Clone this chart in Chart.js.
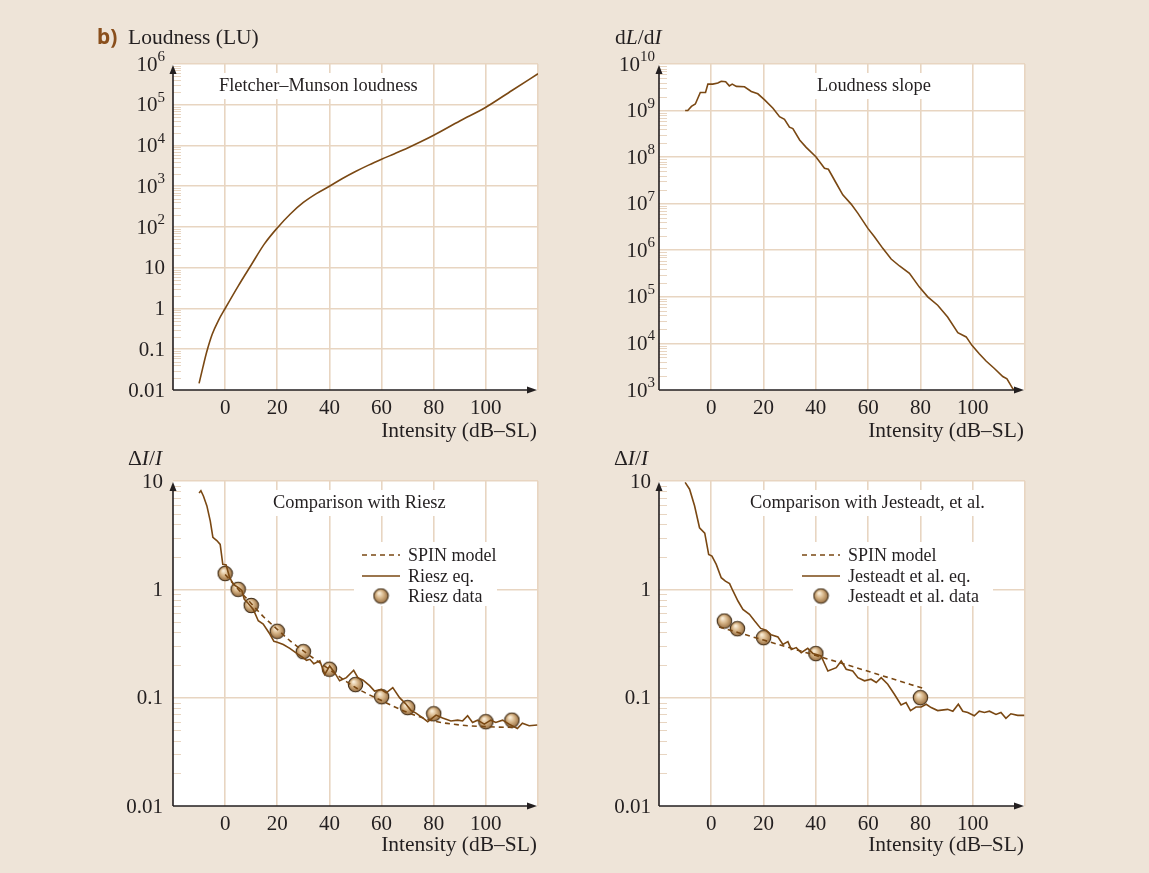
<!DOCTYPE html>
<html>
<head>
<meta charset="utf-8">
<script src="https://cdn.jsdelivr.net/npm/chart.js@4.4.1/dist/chart.umd.min.js"></script>
<style>
  body { margin: 0; background: #eee4d8; width: 1149px; height: 873px; overflow: hidden; position: relative; }
  canvas { position: absolute; left: 0; top: 0; }
</style>
</head>
<body>
<canvas id="tl" width="1149" height="873"></canvas>
<canvas id="tr" width="1149" height="873"></canvas>
<canvas id="bl" width="1149" height="873"></canvas>
<canvas id="br" width="1149" height="873"></canvas>
<script>
// axis ticks
const xTicks = [0, 20, 40, 60, 80, 100];
const loudTicks = [1e6, 1e5, 1e4, 1e3, 1e2, 10, 1, 0.1, 0.01];
const loudTickLabels = ['10^6', '10^5', '10^4', '10^3', '10^2', '10', '1', '0.1', '0.01'];
const slopeTicks = [1e10, 1e9, 1e8, 1e7, 1e6, 1e5, 1e4, 1e3];
const slopeTickLabels = ['10^10', '10^9', '10^8', '10^7', '10^6', '10^5', '10^4', '10^3'];
const jndTicks = [10, 1, 0.1, 0.01];
const jndTickLabels = ['10', '1', '0.1', '0.01'];

// Fletcher-Munson loudness
const loudX = [-10, -8.5, -7, -5, -2.5, 0, 5, 10, 15, 20, 25, 30, 35, 40, 45, 50, 55, 60, 65, 70, 75, 80, 90, 100, 110, 120];
const loudY = [0.0145, 0.037, 0.089, 0.23, 0.52, 1.0, 3.55, 11.7, 38, 95, 209, 400, 660, 1000, 1550, 2300, 3300, 4600, 6300, 8700,
  12300, 17800, 40000, 87000, 224000, 575000];

// loudness slope dL/dI
const slopeX = [-10, -9, -7.6, -6.1, -4.2, -2.2, -1.3, 0.6, 2.5, 3.8, 5.5, 6.9, 8, 9.6, 12.7, 15.3, 17.8, 20.4, 23.6, 26.1,
  28, 29.9, 31.2, 33.8, 36.3, 40, 43.3, 44.8, 47.8, 50.3, 53.5, 56.1, 59.9, 62.4, 65.6, 68.8, 72, 75.8, 79.6, 82.8,
  86.6, 90.4, 94.3, 97.5, 99.7, 102.5, 105.1, 108.3, 111.5, 113.1, 115.3, 115.8];
const slopeY = [1.0e9, 1.0e9, 1.23e9, 1.38e9, 2.45e9, 2.45e9, 3.7e9, 3.7e9, 3.9e9, 4.27e9, 4.17e9, 3.39e9, 3.7e9, 3.3e9, 3.24e9, 2.57e9, 2.29e9, 1.7e9, 1.12e9, 7.4e8,
  6.5e8, 4.4e8, 4.1e8, 2.34e8, 1.62e8, 1.02e8, 5.75e7, 5.5e7, 2.75e7, 1.55e7, 9.8e6, 6.2e6, 2.95e6, 1.95e6, 1.1e6, 6.5e5, 4.6e5, 3.2e5, 1.62e5, 1.0e5,
  6.6e4, 3.7e4, 1.7e4, 1.38e4, 9.1e3, 6.0e3, 4.2e3, 2.9e3, 1.95e3, 1.74e3, 1.07e3, 1.0e3];

// comparison with Riesz
const rieszEqX = [-10, -9.3, -8.3, -7.0, -5.7, -4.7, -3.2, -1.9, -0.9, 0.4, 1.7, 3.2, 5.1, 6.4, 7.3, 8.9, 10.8, 12.7, 14.6, 17.2,
  18.7, 20, 22.3, 24.8, 28, 29.9, 31.2, 32.5, 34, 36.3, 38.2, 40.1, 42, 43.9, 46.5, 49.3, 50.9, 52.9, 55.4, 57.3,
  59.9, 61.8, 64.3, 66.9, 69.4, 71.3, 73.2, 75.8, 77.7, 80.9, 83.4, 86.6, 89.2, 91.1, 93, 94.9, 96.8, 99.4, 101.9, 103.8,
  106.4, 108.9, 112.1, 114, 116.6, 119.7];
const rieszEqY = [7.76, 8.13, 7.24, 5.89, 4.27, 3.02, 2.82, 2.60, 1.70, 1.68, 1.29, 1.11, 1.035, 0.977, 0.813, 0.741, 0.653, 0.513, 0.479, 0.385,
  0.331, 0.324, 0.309, 0.285, 0.251, 0.234, 0.221, 0.226, 0.206, 0.219, 0.164, 0.196, 0.170, 0.143, 0.153, 0.179, 0.153, 0.145, 0.129, 0.115,
  0.119, 0.111, 0.124, 0.100, 0.087, 0.076, 0.072, 0.065, 0.060, 0.069, 0.065, 0.061, 0.062, 0.061, 0.068, 0.059, 0.062, 0.057, 0.062, 0.059,
  0.062, 0.057, 0.052, 0.058, 0.055, 0.056];
const rieszSpinX = [0, 5, 10, 15, 20, 25, 30, 40, 50, 60, 70, 80, 90, 100, 112];
const rieszSpinY = [1.37, 1.0, 0.74, 0.55, 0.427, 0.333, 0.27, 0.182, 0.124, 0.094, 0.073, 0.061, 0.056, 0.054, 0.053];
const rieszDataX = [0, 5, 10, 20, 30, 40, 50, 60, 70, 80, 100, 110];
const rieszDataY = [1.4, 1.0, 0.71, 0.41, 0.266, 0.183, 0.132, 0.102, 0.081, 0.071, 0.060, 0.062];

// comparison with Jesteadt et al.
const jestEqX = [-10, -8.3, -6.4, -4.5, -2.5, -1, 0.25, 1.9, 3.8, 5.4, 7, 8.3, 10.2, 12.1, 14.6, 16.6, 18.9, 21, 22.9, 25.5,
  27.4, 29.3, 30.6, 32.5, 34.4, 36.9, 38.9, 42, 44.6, 47.8, 49.7, 51.6, 54.1, 56.1, 58.6, 61.1, 63.1, 65, 67.5, 70.1,
  72.6, 74.5, 76.2, 78.3, 80.3, 82.2, 84.1, 86.6, 90.4, 92.4, 94.5, 96.2, 98.1, 100.6, 102.5, 104.5, 106.4, 108.9, 110.8, 112.7,
  114.6, 117.2, 119.7];
const jestEqY = [9.7, 8.4, 5.9, 3.7, 3.3, 2.1, 2.03, 1.70, 1.28, 1.19, 1.13, 0.966, 0.78, 0.653, 0.589, 0.51, 0.436, 0.419, 0.38, 0.363,
  0.31, 0.329, 0.279, 0.29, 0.26, 0.285, 0.255, 0.243, 0.176, 0.189, 0.218, 0.183, 0.176, 0.153, 0.143, 0.148, 0.138, 0.153, 0.133, 0.107,
  0.0855, 0.09, 0.076, 0.082, 0.082, 0.087, 0.081, 0.076, 0.078, 0.075, 0.087, 0.075, 0.073, 0.068, 0.075, 0.073, 0.075, 0.070, 0.073, 0.0645,
  0.071, 0.0687, 0.0687];
const jestSpinX = [3, 20, 40, 60, 81];
const jestSpinY = [0.45, 0.34, 0.245, 0.175, 0.122];
const jestDataX = [5, 10, 20, 40, 80];
const jestDataY = [0.51, 0.433, 0.358, 0.255, 0.10];

const FONT = '"Liberation Serif", "Times New Roman", serif';
const INK = '#231f20';
const GRID = '#e8d5c1';
const BROWN = '#7a4813';

function pts(xs, ys) {
  return xs.map((x, i) => ({ x: x, y: ys[i] }));
}

// shaded ball used as the data marker
function ball() {
  const c = document.createElement('canvas');
  c.width = c.height = 17;
  const g = c.getContext('2d');
  const grad = g.createRadialGradient(6.5, 5.5, 0.5, 8.5, 8.5, 8);
  grad.addColorStop(0, '#fbf0dc');
  grad.addColorStop(0.45, '#d6b487');
  grad.addColorStop(1, '#8f6538');
  g.beginPath();
  g.arc(8.5, 8.5, 7.2, 0, Math.PI * 2);
  g.fillStyle = grad;
  g.fill();
  g.lineWidth = 1.1;
  g.strokeStyle = '#3f2c16';
  g.stroke();
  return c;
}
const BALL = ball();

function fontFor(style, size) {
  if (style === 'b') return 'bold ' + size + 'px "Noto Sans", "DejaVu Sans", sans-serif';
  return (style === 'i' ? 'italic ' : '') + size + 'px ' + FONT;
}

// draw text made of several styled pieces
function drawSegs(ctx, segs, x, y, size, align) {
  let total = 0;
  segs.forEach(s => { ctx.font = fontFor(s[1], size); total += ctx.measureText(s[0]).width; });
  let cx = align === 'right' ? x - total : x;
  ctx.textAlign = 'left';
  ctx.textBaseline = 'alphabetic';
  segs.forEach(s => {
    ctx.font = fontFor(s[1], size);
    ctx.fillStyle = s[1] === 'b' ? '#8a4f1c' : INK;
    ctx.fillText(s[0], cx, y);
    cx += ctx.measureText(s[0]).width;
  });
}

function makePanel(cfg) {
  return {
    id: 'panel',
    beforeDraw(chart) {
      const { ctx, chartArea: a } = chart;
      ctx.save();
      ctx.fillStyle = '#fff';
      ctx.fillRect(a.left, a.top, a.right - a.left, a.bottom - a.top);
      ctx.restore();
    },
    beforeDatasetsDraw(chart) {
      // minor log ticks on the inside of the y axis
      const { ctx, chartArea: a } = chart;
      const ys = chart.scales.y;
      ctx.save();
      ctx.strokeStyle = GRID;
      ctx.lineWidth = 1;
      for (let d = ys.min; d < ys.max * 0.99; d *= 10) {
        for (let k = 2; k <= 9; k++) {
          const py = Math.round(ys.getPixelForValue(k * d)) + 0.5;
          ctx.beginPath();
          ctx.moveTo(a.left, py);
          ctx.lineTo(a.left + 8, py);
          ctx.stroke();
        }
      }
      ctx.restore();
    },
    afterDraw(chart) {
      const { ctx, chartArea: a } = chart;
      const xs = chart.scales.x, ys = chart.scales.y;
      ctx.save();

      // axes with arrows
      ctx.strokeStyle = INK;
      ctx.fillStyle = INK;
      ctx.lineWidth = 1.6;
      ctx.beginPath();
      ctx.moveTo(a.left, a.bottom);
      ctx.lineTo(a.left, a.top + 4);
      ctx.moveTo(a.left, a.bottom);
      ctx.lineTo(a.right - 6, a.bottom);
      ctx.stroke();
      ctx.beginPath();
      ctx.moveTo(a.left, a.top + 1);
      ctx.lineTo(a.left - 3.5, a.top + 10);
      ctx.lineTo(a.left + 3.5, a.top + 10);
      ctx.closePath();
      ctx.fill();
      ctx.beginPath();
      ctx.moveTo(a.right - 1, a.bottom);
      ctx.lineTo(a.right - 11, a.bottom - 3.5);
      ctx.lineTo(a.right - 11, a.bottom + 3.5);
      ctx.closePath();
      ctx.fill();

      // y tick labels with exponents
      cfg.yTicks.forEach((v, i) => {
        const parts = cfg.yLabels[i].split('^');
        const py = ys.getPixelForValue(v) + 6.5;
        ctx.font = fontFor('', 15);
        const supW = parts[1] ? ctx.measureText(parts[1]).width : 0;
        ctx.fillStyle = INK;
        ctx.textBaseline = 'alphabetic';
        ctx.textAlign = 'right';
        if (parts[1]) ctx.fillText(parts[1], cfg.yLabelRight, py - 9.5);
        ctx.font = fontFor('', 21);
        ctx.fillText(parts[0], cfg.yLabelRight - supW, py);
      });

      // x tick labels
      ctx.font = fontFor('', 21);
      ctx.textAlign = 'center';
      xTicks.forEach(v => {
        ctx.fillText(String(v), xs.getPixelForValue(v), a.bottom + 23.5);
      });

      // panel title on a white patch
      const t = cfg.title;
      ctx.font = fontFor('', 18.4);
      const tw = ctx.measureText(t.text).width;
      ctx.fillStyle = '#fff';
      ctx.fillRect(t.x - 4, t.y - 18, tw + 8, 26);
      ctx.fillStyle = INK;
      ctx.textAlign = 'left';
      ctx.fillText(t.text, t.x, t.y);

      // legend
      const lg = cfg.legend;
      if (lg) {
        ctx.fillStyle = '#fff';
        ctx.fillRect(lg.box[0], lg.box[1], lg.box[2], lg.box[3]);
        lg.order.forEach((di, r) => {
          const ds = chart.data.datasets[di];
          const cy = lg.rows[r];
          if (ds.showLine === false) {
            ctx.drawImage(BALL, (lg.sample[0] + lg.sample[1]) / 2 - 8.5, cy - 8.5);
          } else {
            ctx.strokeStyle = ds.borderColor;
            ctx.lineWidth = ds.borderWidth;
            ctx.setLineDash(ds.borderDash || []);
            ctx.beginPath();
            ctx.moveTo(lg.sample[0], cy);
            ctx.lineTo(lg.sample[1], cy);
            ctx.stroke();
            ctx.setLineDash([]);
          }
          ctx.font = fontFor('', 18);
          ctx.fillStyle = INK;
          ctx.textAlign = 'left';
          ctx.fillText(ds.label, lg.textX, cy + 6);
        });
      }

      // axis titles
      cfg.texts.forEach(tx => drawSegs(ctx, tx.segs, tx.x, tx.y, tx.size || 21.5, tx.align));
      ctx.restore();
    }
  };
}

function makeChart(id, cfg) {
  const clear = 'rgba(0,0,0,0)';
  new Chart(document.getElementById(id), {
    type: 'line',
    data: { datasets: cfg.datasets },
    options: {
      responsive: false,
      animation: false,
      events: [],
      layout: { padding: cfg.pad },
      plugins: { legend: { display: false }, tooltip: { enabled: false } },
      elements: { point: { radius: 0 } },
      scales: {
        x: {
          type: 'linear', min: -20, max: 120,
          afterFit(s) { s.height = 0; },
          ticks: { display: false, stepSize: 20 },
          grid: { color: c => (c.tick && c.tick.value === -20 ? clear : GRID), lineWidth: 1.6, drawTicks: false },
          border: { display: false }
        },
        y: {
          type: 'logarithmic', min: cfg.yMin, max: cfg.yMax,
          afterFit(s) { s.width = 0; },
          afterBuildTicks(s) { s.ticks = cfg.yTicks.map(v => ({ value: v })); },
          ticks: { display: false },
          grid: { color: c => (c.tick && c.tick.value === cfg.yMin ? clear : GRID), lineWidth: 1.6, drawTicks: false },
          border: { display: false }
        }
      }
    },
    plugins: [makePanel(cfg)]
  });
}

const solid = (label, data, extra) => Object.assign({
  label: label, data: data, borderColor: BROWN, borderWidth: 1.6, pointRadius: 0, fill: false, tension: 0
}, extra || {});
const dashed = (label, data) => solid(label, data, { borderDash: [5, 4], cubicInterpolationMode: 'monotone' });
const balls = (label, data) => ({
  label: label, data: data, showLine: false, pointStyle: BALL, pointRadius: 8, borderColor: BROWN
});
const intensity = (x, y) => ({ segs: [['Intensity (dB–SL)', '']], x: x, y: y, align: 'right' });

makeChart('tl', {
  pad: { left: 173, top: 64, right: 611, bottom: 483 },
  yMin: 0.01, yMax: 1e6, yTicks: loudTicks, yLabels: loudTickLabels, yLabelRight: 165,
  title: { text: 'Fletcher–Munson loudness', x: 219, y: 91 },
  datasets: [solid('Loudness', pts(loudX, loudY), { cubicInterpolationMode: 'monotone' })],
  texts: [
    { segs: [['b)', 'b']], x: 97, y: 44, size: 21 },
    { segs: [['Loudness (LU)', '']], x: 128, y: 44 },
    intensity(537, 437)
  ]
});

makeChart('tr', {
  pad: { left: 659, top: 64, right: 124, bottom: 483 },
  yMin: 1e3, yMax: 1e10, yTicks: slopeTicks, yLabels: slopeTickLabels, yLabelRight: 655,
  title: { text: 'Loudness slope', x: 817, y: 91 },
  datasets: [solid('Loudness slope', pts(slopeX, slopeY))],
  texts: [
    { segs: [['d', ''], ['L', 'i'], ['/', ''], ['d', ''], ['I', 'i']], x: 615, y: 44 },
    intensity(1024, 437)
  ]
});

makeChart('bl', {
  pad: { left: 173, top: 481, right: 611, bottom: 67 },
  yMin: 0.01, yMax: 10, yTicks: jndTicks, yLabels: jndTickLabels, yLabelRight: 163,
  title: { text: 'Comparison with Riesz', x: 273, y: 508 },
  datasets: [
    solid('Riesz eq.', pts(rieszEqX, rieszEqY)),
    dashed('SPIN model', pts(rieszSpinX, rieszSpinY)),
    balls('Riesz data', pts(rieszDataX, rieszDataY))
  ],
  legend: { box: [354, 542, 143, 64], sample: [362, 400], textX: 408, rows: [555, 576, 596], order: [1, 0, 2] },
  texts: [
    { segs: [['Δ', ''], ['I', 'i'], ['/', ''], ['I', 'i']], x: 128, y: 465 },
    intensity(537, 851)
  ]
});

makeChart('br', {
  pad: { left: 659, top: 481, right: 124, bottom: 67 },
  yMin: 0.01, yMax: 10, yTicks: jndTicks, yLabels: jndTickLabels, yLabelRight: 651,
  title: { text: 'Comparison with Jesteadt, et al.', x: 750, y: 508 },
  datasets: [
    solid('Jesteadt et al. eq.', pts(jestEqX, jestEqY)),
    dashed('SPIN model', pts(jestSpinX, jestSpinY)),
    balls('Jesteadt et al. data', pts(jestDataX, jestDataY))
  ],
  legend: { box: [793, 542, 200, 64], sample: [802, 840], textX: 848, rows: [555, 576, 596], order: [1, 0, 2] },
  texts: [
    { segs: [['Δ', ''], ['I', 'i'], ['/', ''], ['I', 'i']], x: 614, y: 465 },
    intensity(1024, 851)
  ]
});
</script>
</body>
</html>
